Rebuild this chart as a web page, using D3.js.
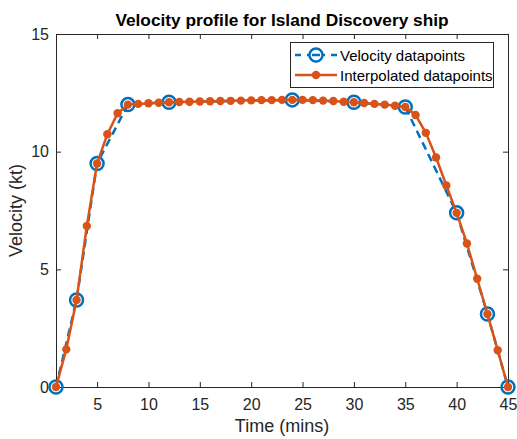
<!DOCTYPE html>
<html>
<head>
<meta charset="utf-8">
<script src="https://cdn.jsdelivr.net/npm/d3@7"></script>
<style>
  html, body { margin: 0; padding: 0; background: #fff; }
  svg { display: block; font-family: "Liberation Sans", Arial, Helvetica, sans-serif; }
</style>
</head>
<body>
<svg id="chart" width="517" height="439"></svg>
<script>
// Measured velocity samples (time in minutes, speed in knots)
const measuredTime = [1, 3, 5, 8, 12, 24, 30, 35, 40, 43, 45];
const measuredVelocity = [0, 3.7, 9.5, 12.0, 12.1, 12.2, 12.1, 11.9, 7.4, 3.1, 0];

// Interpolated velocity at every whole minute
const interpTime = d3.range(1, 46);
const interpVelocity = [
  0, 1.6, 3.7, 6.84, 9.5, 10.74, 11.63, 12.0, 12.03, 12.06,
  12.08, 12.1, 12.11, 12.12, 12.13, 12.14, 12.15, 12.16, 12.17, 12.18,
  12.19, 12.19, 12.2, 12.2, 12.2, 12.19, 12.17, 12.15, 12.12, 12.1,
  12.07, 12.03, 12.0, 11.95, 11.9, 11.56, 10.8, 9.75, 8.56, 7.4,
  6.1, 4.6, 3.1, 1.56, 0
];

const xTicks = [5, 10, 15, 20, 25, 30, 35, 40, 45];
const yTicks = [0, 5, 10, 15];
const seriesNames = ["Velocity datapoints", "Interpolated datapoints"];
const blue = "#0072BD", orange = "#D95319", axisColor = "#262626";

const svg = d3.select("#chart");
const margin = { left: 56, right: 9, top: 34, bottom: 52 };
const W = 517, H = 439;

const x = d3.scaleLinear().domain([1, 45]).range([margin.left, W - margin.right]);
const y = d3.scaleLinear().domain([0, 15]).range([H - margin.bottom, margin.top]);

const measured = measuredTime.map((t, i) => ({ t, v: measuredVelocity[i] }));
const interp = interpTime.map((t, i) => ({ t, v: interpVelocity[i] }));

const line = d3.line().x(d => x(d.t)).y(d => y(d.v));

// Axes (box with ticks on all sides, ticks pointing inward)
const tickLen = 5;
const axStyle = g => {
  g.selectAll(".domain").attr("stroke", axisColor).attr("stroke-width", 1);
  g.selectAll(".tick line").attr("stroke", axisColor);
  g.selectAll(".tick text").attr("fill", "#262626").attr("font-size", 16)
    .attr("font-family", "Liberation Sans, Arial, sans-serif");
};

svg.append("g").attr("transform", `translate(0,${y(0)})`)
  .call(d3.axisBottom(x).tickValues(xTicks).tickSizeInner(-tickLen).tickSizeOuter(0).tickPadding(12))
  .call(axStyle);
svg.append("g").attr("transform", `translate(0,${y(15)})`)
  .call(d3.axisTop(x).tickValues(xTicks).tickSizeInner(-tickLen).tickSizeOuter(0).tickFormat(""))
  .call(axStyle);
svg.append("g").attr("transform", `translate(${x(1)},0)`)
  .call(d3.axisLeft(y).tickValues(yTicks).tickSizeInner(-tickLen).tickSizeOuter(0).tickPadding(7))
  .call(axStyle);
svg.append("g").attr("transform", `translate(${x(45)},0)`)
  .call(d3.axisRight(y).tickValues(yTicks).tickSizeInner(-tickLen).tickSizeOuter(0).tickFormat(""))
  .call(axStyle);

// Measured series: dashed blue line with open circles
svg.append("path").datum(measured)
  .attr("d", line).attr("fill", "none")
  .attr("stroke", blue).attr("stroke-width", 2.5).attr("stroke-dasharray", "8,5");
svg.append("g").selectAll("circle").data(measured).join("circle")
  .attr("cx", d => x(d.t)).attr("cy", d => y(d.v)).attr("r", 6.5)
  .attr("fill", "none").attr("stroke", blue).attr("stroke-width", 2.5);

// Interpolated series: solid orange line with filled dots
svg.append("path").datum(interp)
  .attr("d", line).attr("fill", "none")
  .attr("stroke", orange).attr("stroke-width", 2.5);
svg.append("g").selectAll("circle").data(interp).join("circle")
  .attr("cx", d => x(d.t)).attr("cy", d => y(d.v)).attr("r", 4.2)
  .attr("fill", orange);

// Title and axis labels
svg.append("text").attr("x", (x(1) + x(45)) / 2).attr("y", 26)
  .attr("text-anchor", "middle").attr("font-weight", "bold").attr("font-size", 17.3)
  .attr("fill", "#000").text("Velocity profile for Island Discovery ship");
svg.append("text").attr("x", (x(1) + x(45)) / 2).attr("y", 432)
  .attr("text-anchor", "middle").attr("font-size", 18).attr("fill", "#262626")
  .text("Time (mins)");
svg.append("text").attr("transform", `translate(22,${(y(0) + y(15)) / 2}) rotate(-90)`)
  .attr("text-anchor", "middle").attr("font-size", 18).attr("fill", "#262626")
  .text("Velocity (kt)");

// Legend
const lg = svg.append("g");
lg.append("rect").attr("x", 290.5).attr("y", 42.5).attr("width", 203).attr("height", 45)
  .attr("fill", "#fff").attr("stroke", axisColor).attr("stroke-width", 1);
const rows = [
  { name: seriesNames[0], yy: 55, color: blue, dashed: true },
  { name: seriesNames[1], yy: 75, color: orange, dashed: false }
];
rows.forEach(r => {
  lg.append("line").attr("x1", 295).attr("x2", 337).attr("y1", r.yy).attr("y2", r.yy)
    .attr("stroke", r.color).attr("stroke-width", 2.5)
    .attr("stroke-dasharray", r.dashed ? "6,6" : null);
  if (r.dashed) {
    lg.append("circle").attr("cx", 316).attr("cy", r.yy).attr("r", 6.5)
      .attr("fill", "#fff").attr("stroke", r.color).attr("stroke-width", 2.5);
    lg.append("line").attr("x1", 312).attr("x2", 320).attr("y1", r.yy).attr("y2", r.yy)
      .attr("stroke", r.color).attr("stroke-width", 2.5);
  } else {
    lg.append("circle").attr("cx", 316).attr("cy", r.yy).attr("r", 4.2).attr("fill", r.color);
  }
  lg.append("text").attr("x", 340).attr("y", r.yy + 5.5).attr("font-size", 15)
    .attr("fill", "#000").text(r.name);
});
</script>
</body>
</html>
